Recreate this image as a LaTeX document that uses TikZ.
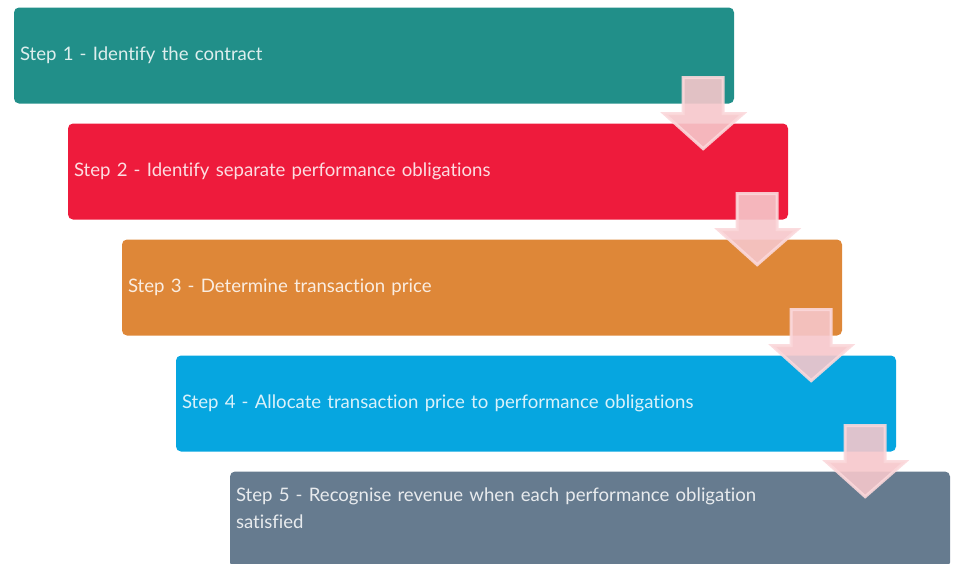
\documentclass[tikz,border=0pt]{standalone}
\usepackage{fontspec}
\setmainfont[Ligatures=NoCommon]{Lato}
\usepackage{tikz}
\definecolor{tealbox}{RGB}{33,143,137}
\definecolor{redbox}{RGB}{238,27,60}
\definecolor{orangebox}{RGB}{222,135,56}
\definecolor{bluebox}{RGB}{6,166,224}
\definecolor{slatebox}{RGB}{102,123,143}
\definecolor{pinkfill}{RGB}{246,199,203}
\definecolor{pinkline}{RGB}{251,216,219}
\tikzstyle{stepbox} = [rectangle, rounded corners=5pt, minimum width=720pt, minimum height=96pt, text width=708pt, inner sep=6pt, align=left, text=white, text opacity=0.85, font=\fontsize{18.6}{27}\selectfont]
\tikzstyle{downarrow} = [fill=pinkfill, fill opacity=0.9, draw=pinkline, draw opacity=0.9, line width=3pt, line join=miter]

\begin{document}
\begin{tikzpicture}[x=1pt, y=-1pt, node distance=116pt]
\useasboundingbox (0,0) rectangle (953,563);
\node (s1) [stepbox, fill=tealbox] at (374,55.5) {Step 1 - Identify the contract};
\node (s2) [stepbox, fill=redbox, below of=s1, xshift=54pt] {Step 2 - Identify separate performance obligations};
\node (s3) [stepbox, fill=orangebox, below of=s2, xshift=54pt] {Step 3 - Determine transaction price};
\node (s4) [stepbox, fill=bluebox, below of=s3, xshift=54pt] {Step 4 - Allocate transaction price to performance obligations};
\node (s5) [stepbox, fill=slatebox, below of=s4, xshift=54pt, text height=24pt, text depth=60pt] {Step 5 - Recognise revenue when each performance obligation\\satisfied};

% pink arrows hanging off each box into the next one
\draw [downarrow, shift={(s1.south east)}] (-51,-26) -- (-11,-26) -- (-11,10) -- (9,10) -- (-31,45) -- (-70,10) -- (-51,10) -- cycle;
\draw [downarrow, shift={(s2.south east)}] (-51,-26) -- (-11,-26) -- (-11,10) -- (9,10) -- (-31,45) -- (-70,10) -- (-51,10) -- cycle;
\draw [downarrow, shift={(s3.south east)}] (-51,-26) -- (-11,-26) -- (-11,10) -- (9,10) -- (-31,45) -- (-70,10) -- (-51,10) -- cycle;
\draw [downarrow, shift={(s4.south east)}] (-51,-26) -- (-11,-26) -- (-11,10) -- (9,10) -- (-31,45) -- (-70,10) -- (-51,10) -- cycle;

\end{tikzpicture}
\end{document}
